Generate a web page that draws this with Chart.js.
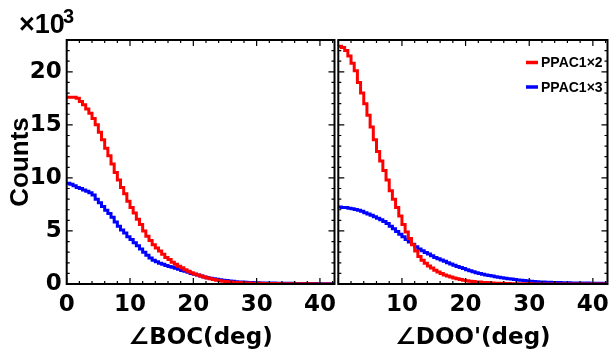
<!DOCTYPE html>
<html>
<head>
<meta charset="utf-8">
<script src="https://cdn.jsdelivr.net/npm/chart.js@4.4.0/dist/chart.umd.min.js"></script>
<style>
  html, body { margin: 0; padding: 0; background: #fff; }
  #wrap { position: relative; width: 616px; height: 350px; }
  #wrap canvas { position: absolute; left: 0; top: 0; }
</style>
</head>
<body>
<div id="wrap">
  <canvas id="leftPad" width="616" height="350"></canvas>
  <canvas id="rightPad" width="616" height="350"></canvas>
</div>
<script>
// histogram binning (deg) and axis ticks
const binWidth = 0.5;
const xTicks = [0, 10, 20, 30, 40];
const yTicks = [0, 5, 10, 15, 20];   // counts in units of 10^3
const xMinorStep = 2;
const yMinorStep = 1;
const seriesNames = ["PPAC1\u00d72", "PPAC1\u00d73"];

// left pad: angle BOC, counts x10^3 per 0.5 deg bin
const bocRed = [
  17.6, 17.6, 17.6, 17.5, 17.2, 16.9, 16.5, 16.1, 15.6, 15.0,
  14.3, 13.6, 12.8, 12.1, 11.3, 10.5, 9.8, 9.1, 8.5, 7.8,
  7.2, 6.7, 6.1, 5.6, 5.0, 4.5, 4.1, 3.7, 3.4, 3.1,
  2.8, 2.5, 2.3, 2.05, 1.85, 1.68, 1.52, 1.35, 1.2, 1.06,
  0.95, 0.85, 0.75, 0.65, 0.56, 0.49, 0.42, 0.36, 0.31, 0.26,
  0.23, 0.2, 0.17, 0.15, 0.13, 0.12, 0.1, 0.09, 0.08, 0.07,
  0.065, 0.06, 0.055, 0.05, 0.045, 0.04, 0.04, 0.035, 0.03, 0.03,
  0.03, 0.025, 0.02, 0.02, 0.02, 0.02, 0.015, 0.015, 0.01, 0.01,
  0.01, 0.01, 0.01, 0.01
];
const bocBlue = [
  9.5, 9.4, 9.25, 9.1, 9.0, 8.85, 8.75, 8.6, 8.4, 8.0,
  7.65, 7.3, 6.95, 6.65, 6.3, 5.85, 5.45, 5.1, 4.8, 4.45,
  4.2, 3.9, 3.6, 3.3, 3.0, 2.7, 2.45, 2.25, 2.1, 1.95,
  1.85, 1.75, 1.65, 1.57, 1.48, 1.38, 1.28, 1.2, 1.1, 1.0,
  0.92, 0.84, 0.75, 0.67, 0.6, 0.54, 0.49, 0.44, 0.4, 0.36,
  0.32, 0.28, 0.25, 0.22, 0.2, 0.18, 0.16, 0.14, 0.13, 0.12,
  0.11, 0.105, 0.1, 0.095, 0.09, 0.085, 0.08, 0.075, 0.07, 0.065,
  0.06, 0.06, 0.055, 0.05, 0.05, 0.045, 0.045, 0.04, 0.04, 0.035,
  0.035, 0.03, 0.03, 0.03
];

// right pad: angle DOO'
const dooRed = [
  22.4, 22.3, 22.0, 21.5, 20.8, 20.1, 19.0, 18.0, 17.0, 15.9,
  14.8, 13.6, 12.5, 11.6, 10.7, 9.8, 8.8, 8.0, 7.2, 6.4,
  5.6, 4.9, 4.3, 3.7, 3.1, 2.6, 2.25, 1.95, 1.7, 1.5,
  1.3, 1.12, 0.98, 0.86, 0.75, 0.65, 0.56, 0.49, 0.42, 0.36,
  0.31, 0.27, 0.23, 0.2, 0.18, 0.15, 0.13, 0.11, 0.09, 0.08,
  0.07, 0.06, 0.05, 0.04, 0.035, 0.03, 0.025, 0.02, 0.02, 0.015,
  0.015, 0.01, 0.01, 0.01, 0.01, 0.01, 0.008, 0.008, 0.006, 0.006,
  0.005, 0.005, 0.005, 0.004, 0.004, 0.004, 0.003, 0.003, 0.003, 0.003,
  0.002, 0.002, 0.002, 0.002
];
const dooBlue = [
  7.25, 7.22, 7.2, 7.15, 7.1, 7.02, 6.95, 6.85, 6.72, 6.6,
  6.48, 6.35, 6.2, 6.05, 5.88, 5.7, 5.45, 5.2, 4.95, 4.7,
  4.45, 4.2, 3.95, 3.75, 3.5, 3.3, 3.13, 2.97, 2.82, 2.66,
  2.5, 2.38, 2.26, 2.14, 2.0, 1.88, 1.76, 1.65, 1.55, 1.45,
  1.35, 1.25, 1.15, 1.07, 0.99, 0.92, 0.86, 0.8, 0.75, 0.69,
  0.64, 0.59, 0.54, 0.5, 0.46, 0.42, 0.38, 0.35, 0.32, 0.29,
  0.26, 0.24, 0.22, 0.2, 0.18, 0.17, 0.16, 0.15, 0.14, 0.13,
  0.125, 0.12, 0.11, 0.105, 0.1, 0.095, 0.09, 0.09, 0.085, 0.08,
  0.08, 0.075, 0.07, 0.07
];

const RED = "#ff0000";
const BLUE = "#0000ff";
const X_MAX = 42.3;
const labelFont = { family: "'DejaVu Sans', sans-serif", weight: "bold", size: 23 };

// bin contents -> step outline points at bin low edges (plus closing edge)
function toSteps(values) {
  const pts = values.map((v, i) => ({ x: i * binWidth, y: v }));
  pts.push({ x: X_MAX, y: values[values.length - 1] });
  return pts;
}

function histDataset(label, values, color) {
  return {
    label: label,
    data: toSteps(values),
    borderColor: color,
    backgroundColor: color,
    borderWidth: 3,
    stepped: true,
    pointRadius: 0,
    fill: false
  };
}

// ROOT-like frame with inward ticks on all four sides
const rootFrame = {
  id: "rootFrame",
  afterDatasetsDraw(chart) {
    const { ctx, chartArea: a, scales } = chart;
    const x = scales.x, y = scales.y;
    ctx.save();
    ctx.strokeStyle = "#000";
    ctx.lineWidth = 1.2;
    ctx.beginPath();
    for (let v = 0; v <= x.max + 1e-6; v += xMinorStep) {
      const px = x.getPixelForValue(v);
      const len = v % 10 === 0 ? 6 : 3;
      ctx.moveTo(px, a.bottom); ctx.lineTo(px, a.bottom - len);
      ctx.moveTo(px, a.top); ctx.lineTo(px, a.top + len);
    }
    for (let v = 0; v <= y.max + 1e-6; v += yMinorStep) {
      const py = y.getPixelForValue(v);
      const len = v % 5 === 0 ? 6 : 3;
      ctx.moveTo(a.left, py); ctx.lineTo(a.left + len, py);
      ctx.moveTo(a.right, py); ctx.lineTo(a.right - len, py);
    }
    ctx.stroke();
    ctx.lineWidth = 2;
    ctx.strokeRect(a.left, a.top, a.width, a.height);
    ctx.restore();
  }
};

// exponent label above the left y axis
const expLabel = {
  id: "expLabel",
  afterDraw(chart) {
    const ctx = chart.ctx;
    ctx.save();
    ctx.fillStyle = "#000";
    ctx.textBaseline = "alphabetic";
    ctx.font = "bold 27px 'Liberation Sans', Arial, sans-serif";
    ctx.fillText("\u00d710", 19, 33);
    ctx.font = "bold 20px 'Liberation Sans', Arial, sans-serif";
    ctx.fillText("3", 63, 23);
    ctx.restore();
  }
};

// legend box in the upper right of the right pad
const padLegend = {
  id: "padLegend",
  afterDraw(chart) {
    const ctx = chart.ctx;
    ctx.save();
    ctx.font = "bold 14px 'Liberation Sans', Arial, sans-serif";
    ctx.textBaseline = "middle";
    chart.data.datasets.forEach((ds, i) => {
      const yy = 62.5 + i * 24.5;
      ctx.strokeStyle = ds.borderColor;
      ctx.lineWidth = 3.5;
      ctx.beginPath();
      ctx.moveTo(526, yy);
      ctx.lineTo(538, yy);
      ctx.stroke();
      ctx.fillStyle = "#000";
      ctx.fillText(ds.label, 541, yy + 1);
    });
    ctx.restore();
  }
};

function padOptions(opts) {
  return {
    responsive: false,
    animation: false,
    layout: { padding: opts.padding },
    plugins: { legend: { display: false }, tooltip: { enabled: false } },
    scales: {
      x: {
        type: "linear",
        min: 0,
        max: X_MAX,
        afterBuildTicks: (s) => { s.ticks = xTicks.map((v) => ({ value: v })); },
        afterFit: (s) => { s.height = 66; },
        grid: { display: false, drawTicks: false },
        border: { display: false },
        ticks: {
          color: "#000",
          font: labelFont,
          padding: 7,
          maxRotation: 0,
          autoSkip: false,
          callback: (v) => (opts.hideZero && v === 0 ? "" : v)
        },
        title: {
          display: true,
          text: opts.xTitle,
          color: "#000",
          font: { family: "'DejaVu Sans', sans-serif", weight: "bold", size: 23, lineHeight: 1 },
          padding: { top: 0, bottom: 0 }
        }
      },
      y: {
        type: "linear",
        min: 0,
        max: 23,
        afterBuildTicks: (s) => { s.ticks = yTicks.map((v) => ({ value: v })); },
        afterFit: (s) => { s.width = opts.yWidth; },
        grid: { display: false, drawTicks: false },
        border: { display: false },
        ticks: { display: opts.showY, color: "#000", font: labelFont, padding: 5 },
        title: {
          display: opts.showY,
          text: "Counts",
          color: "#000",
          font: { family: "'Liberation Sans', Arial, sans-serif", weight: "bold", size: 26, lineHeight: 1 },
          padding: { top: 8, bottom: 0 }
        }
      }
    }
  };
}

document.addEventListener("DOMContentLoaded", function () {
  new Chart(document.getElementById("leftPad").getContext("2d"), {
    type: "line",
    data: {
      datasets: [
        histDataset(seriesNames[0], bocRed, RED),
        histDataset(seriesNames[1], bocBlue, BLUE)
      ]
    },
    options: padOptions({
      padding: { top: 40, left: 0, right: 616 - 334.5, bottom: 0 },
      yWidth: 66.7,
      showY: true,
      hideZero: false,
      xTitle: "\u2220BOC(deg)"
    }),
    plugins: [rootFrame, expLabel]
  });

  new Chart(document.getElementById("rightPad").getContext("2d"), {
    type: "line",
    data: {
      datasets: [
        histDataset(seriesNames[0], dooRed, RED),
        histDataset(seriesNames[1], dooBlue, BLUE)
      ]
    },
    options: padOptions({
      padding: { top: 40, left: 338.3, right: 616 - 613.5, bottom: 0 },
      yWidth: 0,
      showY: false,
      hideZero: true,
      xTitle: "\u2220DOO'(deg)"
    }),
    plugins: [rootFrame, padLegend]
  });
});
</script>
</body>
</html>
